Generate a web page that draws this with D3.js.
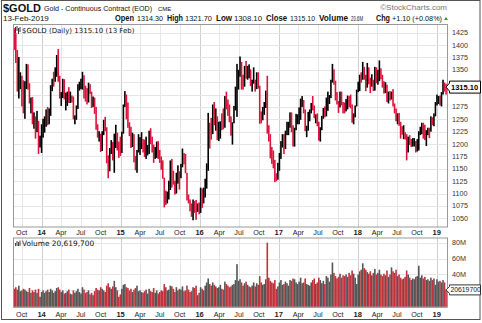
<!DOCTYPE html>
<html><head><meta charset="utf-8">
<script src="https://cdn.jsdelivr.net/npm/d3@7"></script>
<style>body{margin:0;background:#fff}svg{display:block}</style>
</head><body><svg id="c" width="482" height="323"></svg>
<script>
// ---- DATA (weekly) ----
const firstWeekEnd = "2013-08-30";
const high = [
1434,1424,1390,1376,1345,1338,1329,1327,1362,1361,1323,1294,1295,1264,1256,1267,1247,1217,
1240,1251,1256,1270,1275,1272,1319,1332,1346,1355,1380,1392,1338,1305,1332,1331,1304,1306,1315,1306,1298,1296,1258,1278,1321,1326,1332,1346,1339,1318,1313,1324,1321,1306,1296,1294,1275,1240,1226,1221,1226,1249,1255,1234,1177,1192,1208,1204,1221,1239,1223,1205,
1215,1225,1280,1307,1300,1284,1244,1235,1223,1220,1176,1188,1220,1214,1224,1210,1209,1215,1198,1227,1232,1215,1199,1194,1205,1206,1188,1175,1167,1132,1106,1104,1126,1167,1170,1146,1126,1142,1157,1145,1160,1191,1182,1180,1142,1098,1088,1080,1088,1085,1087,1080,1082,
1112,1110,1112,1130,1161,1263,1243,1253,1280,1285,1272,1256,1245,1246,1262,1272,1297,1306,1290,1280,1256,1244,1277,1316,1362,1350,1377,1366,1340,1358,1368,1358,1361,1351,1330,1355,1330,1345,1345,1318,1266,1275,1285,1308,1338,1238,1220,1194,1187,1168,1141,1162,
1182,1206,1220,1220,1227,1245,1245,1264,1264,1238,1233,1261,1260,1274,1292,1297,1289,1270,1237,1265,1270,1283,1297,1278,1260,1262,1245,1234,1257,1273,1276,1294,1306,1299,1330,1362,1351,1328,1305,1287,1306,1306,1285,1284,1291,1298,1297,1300,1280,1262,1278,1310,
1326,1340,1345,1366,1356,1340,1364,1355,1334,1341,1330,1356,1355,1350,1369,1353,1340,1327,1325,1320,1306,1307,1306,1311,1282,1272,1262,1263,1245,1236,1238,1224,1220,1215,1218,1210,1212,1212,1206,1210,1226,1235,1243,1243,1239,1228,1233,1233,1256,1254,1262,1285,
1300,1297,1298,1305,1330,1324,1322];
const low = [
1390,1364,1306,1292,1311,1276,1262,1251,1311,1310,1282,1262,1240,1231,1211,1224,1180,1193,
1182,1213,1223,1235,1238,1240,1257,1307,1316,1326,1336,1326,1292,1277,1293,1290,1268,1277,1283,1283,1284,1250,1240,1249,1271,1308,1311,1310,1292,1286,1280,1284,1301,1273,1275,1261,1229,1213,1205,1184,1186,1218,1226,1161,1131,1145,1180,1167,1142,1192,1187,1172,
1176,1182,1221,1275,1250,1233,1216,1192,1194,1163,1147,1142,1183,1178,1190,1183,1174,1170,1177,1180,1200,1183,1162,1170,1172,1170,1162,1148,1130,1072,1077,1080,1088,1107,1112,1118,1098,1100,1120,1108,1131,1153,1159,1141,1086,1080,1064,1053,1046,1061,1047,1063,1058,
1061,1071,1080,1092,1110,1146,1191,1209,1220,1238,1227,1208,1206,1211,1228,1230,1233,1270,1257,1244,1217,1199,1242,1268,1255,1310,1336,1310,1310,1316,1332,1330,1333,1317,1306,1322,1306,1311,1312,1241,1242,1248,1259,1273,1221,1205,1171,1160,1151,1123,1125,1128,
1146,1170,1193,1180,1190,1218,1218,1233,1224,1195,1195,1228,1240,1240,1249,1275,1262,1226,1214,1227,1246,1262,1268,1252,1242,1236,1207,1205,1228,1251,1254,1256,1267,1281,1293,1324,1320,1288,1280,1263,1274,1278,1262,1262,1266,1270,1275,1272,1243,1240,1254,1276,
1305,1307,1324,1330,1330,1307,1314,1321,1303,1316,1307,1308,1323,1320,1327,1331,1314,1302,1303,1285,1282,1288,1290,1276,1262,1246,1240,1237,1211,1219,1210,1209,1167,1183,1198,1194,1195,1195,1183,1185,1187,1218,1220,1211,1208,1196,1218,1212,1225,1238,1236,1256,
1278,1281,1278,1276,1300,1306,1300];
const close = [
1396,1387,1308,1333,1339,1310,1272,1315,1352,1315,1287,1288,1244,1250,1231,1235,1203,1213,
1238,1248,1254,1264,1240,1262,1318,1323,1321,1338,1379,1336,1294,1303,1318,1293,1300,1302,1287,1293,1292,1250,1252,1273,1316,1319,1320,1337,1310,1303,1294,1310,1305,1280,1287,1268,1231,1216,1218,1192,1222,1239,1231,1171,1169,1185,1201,1175,1204,1222,1196,1195,
1186,1217,1277,1293,1279,1234,1227,1204,1213,1164,1152,1184,1199,1201,1207,1204,1175,1179,1189,1225,1205,1190,1168,1179,1201,1172,1163,1157,1131,1099,1094,1094,1113,1159,1133,1121,1103,1137,1145,1137,1156,1182,1162,1142,1088,1081,1076,1057,1084,1075,1065,1076,1060,
1098,1089,1096,1118,1158,1239,1227,1222,1271,1250,1255,1217,1222,1240,1235,1231,1291,1290,1273,1252,1220,1242,1275,1294,1315,1339,1366,1328,1322,1357,1336,1340,1341,1321,1326,1328,1310,1339,1313,1257,1251,1267,1275,1303,1226,1208,1178,1177,1161,1134,1132,1152,
1173,1196,1204,1191,1220,1234,1239,1258,1234,1201,1230,1249,1249,1257,1288,1289,1268,1228,1228,1254,1268,1280,1271,1256,1256,1242,1212,1228,1255,1269,1258,1290,1291,1297,1325,1346,1325,1297,1284,1275,1304,1280,1272,1269,1274,1296,1288,1280,1248,1257,1275,1309,
1322,1335,1331,1350,1333,1315,1353,1330,1323,1323,1313,1347,1325,1332,1345,1336,1323,1315,1320,1289,1303,1298,1302,1278,1270,1253,1255,1241,1231,1222,1223,1219,1184,1213,1206,1200,1201,1201,1196,1207,1222,1228,1237,1233,1210,1223,1227,1226,1252,1241,1258,1283,
1287,1292,1282,1303,1322,1318,1315.1];
const volume = [ // millions
22,24,21,26,19,20,22,21,19,18,23,17,20,18,21,17,22,12,
18,20,17,19,21,18,22,20,17,19,23,24,21,18,20,16,17,19,21,16,15,20,17,19,22,18,16,24,21,17,18,20,15,17,14,19,23,21,20,24,22,20,18,26,29,24,22,25,32,24,20,12,
15,22,27,28,24,23,20,22,18,21,23,26,19,20,18,17,19,21,16,22,19,18,23,17,20,16,18,20,19,28,24,20,21,26,25,22,18,24,20,22,21,25,19,20,26,21,18,19,24,23,26,14,17,
24,22,20,26,30,35,28,26,30,27,25,23,24,27,22,21,31,28,26,24,25,27,28,33,53,32,34,30,26,29,31,27,25,24,26,30,25,29,27,38,30,27,28,34,80,36,32,30,29,33,22,25,
30,33,27,28,31,29,26,33,32,35,34,30,28,31,36,29,30,35,28,27,26,30,33,35,28,30,36,33,29,32,28,38,36,31,40,55,42,38,35,37,41,36,39,38,40,37,42,39,45,41,36,28,
40,44,46,54,48,46,43,41,44,39,42,47,40,42,46,40,38,41,39,45,37,40,49,44,42,46,38,40,36,34,35,37,45,40,36,33,35,34,37,38,51,36,39,35,37,33,34,32,36,33,35,27,
34,31,32,30,33,30,21];
const priceTicks = [1050,1075,1100,1125,1150,1175,1200,1225,1250,1275,1300,1325,1350,1375,1400,1425];
const volTicks = [20,40,60,80];
const volTickLabels = ["", "40M","60M","80M"];
const axisDates = ["2013-10-01","2014-01-01","2014-04-01","2014-07-01","2014-10-01","2015-01-01","2015-04-01","2015-07-01","2015-10-01","2016-01-01","2016-04-01","2016-07-01","2016-10-01","2017-01-01","2017-04-01","2017-07-01","2017-10-01","2018-01-01","2018-04-01","2018-07-01","2018-10-01","2019-01-01"];
const axisLabels = ["Oct","14","Apr","Jul","Oct","15","Apr","Jul","Oct","16","Apr","Jul","Oct","17","Apr","Jul","Oct","18","Apr","Jul","Oct","19"];
const headerStats = [["Open","1314.30"],["High","1321.70"],["Low","1308.10"],["Close","1315.10"],["Volume","20.6M"],["Chg","+1.10 (+0.08%)"]];
const lastClose = "1315.10", lastVolume = "20619700";

// ---- LAYOUT ----
const svg = d3.select("#c");
const L = 13, R = 448;
const pTop = 24, pBot = 227.5, vTop = 237.5, vBot = 307.5;
const parse = d3.timeParse("%Y-%m-%d");
const x = d3.scaleTime().domain([new Date(2013,7,22), new Date(2019,1,22)]).range([L, R]);
const yP = d3.scaleLinear().domain([1031.4, 1442.6]).range([pBot, pTop]);
const yV = d3.scaleLinear().domain([-1.5, 86.5]).range([vBot, vTop]);
const start = parse(firstWeekEnd);
const weeks = high.map((h,i)=>({
  d: d3.timeDay.offset(start, 7*i - 2), h, l: low[i], c: close[i], v: volume[i],
  up: i===0 ? false : close[i] >= close[i-1]
}));
const sans = "'Liberation Sans',Arial,sans-serif";
const dv = "'DejaVu Sans',sans-serif";
const yc = yP(+lastClose);

// outer frame
svg.append("rect").attr("x",1.5).attr("y",0.5).attr("width",478.5).attr("height",319)
  .attr("fill","none").attr("stroke","#555").attr("stroke-width",1);

function panel(top, bot){
  const g = svg.append("g");
  g.append("rect").attr("x",L).attr("y",top).attr("width",R-L).attr("height",bot-top).attr("fill","#fff");
  axisDates.forEach((s,i)=>{
    const xx = Math.round(x(parse(s)))+0.5;
    const yr = /^\d\d$/.test(axisLabels[i]);
    g.append("line").attr("x1",xx).attr("x2",xx).attr("y1",top).attr("y2",bot)
      .attr("stroke", yr ? "#cfcfcf" : "#e6e6e6").attr("stroke-width",1);
  });
  return g;
}
function label(xp, yp, s, size, opts={}){
  const e = svg.append("text").attr("x",xp).attr("y",yp).text(s)
    .attr("font-family",opts.ff||sans).attr("font-size",size)
    .attr("font-weight",opts.bold?"bold":"normal").attr("fill",opts.fill||"#222");
  if (opts.anchor) e.attr("text-anchor",opts.anchor);
  return e;
}
const gp = panel(pTop, pBot);
priceTicks.forEach(t=>{
  const yy = Math.round(yP(t))+0.5;
  gp.append("line").attr("x1",L).attr("x2",R).attr("y1",yy).attr("y2",yy).attr("stroke","#e6e6e6");
  if (Math.abs(yP(t)-yc) > 8)   // labels hidden under the last-value marker are not drawn
    label(R+4, yP(t)+2.5, t, 7.2, {fill:"#333"});
});
const gv = panel(vTop, vBot);
volTicks.forEach((t,i)=>{
  const yy = Math.round(yV(t))+0.5;
  gv.append("line").attr("x1",L).attr("x2",R).attr("y1",yy).attr("y2",yy).attr("stroke","#e6e6e6");
  if (volTickLabels[i]) label(R+4, yV(t)+2.5, volTickLabels[i], 7.2, {fill:"#333"});
});

// price bars
gp.selectAll("rect.bar").data(weeks).join("rect").attr("class","bar")
  .attr("x",d=>x(d.d)-0.8).attr("width",1.6)
  .attr("y",d=>yP(d.h)).attr("height",d=>yP(d.l)-yP(d.h))
  .attr("fill",d=>d.up ? "#000" : "#dc143c");
// volume bars
gv.selectAll("rect.vb").data(weeks).join("rect").attr("class","vb")
  .attr("x",d=>x(d.d)-0.8).attr("width",1.6)
  .attr("y",d=>yV(d.v)).attr("height",d=>vBot-yV(d.v))
  .attr("fill",d=>d.up ? "#555" : "#c1323d");

// panel borders
[[pTop,pBot],[vTop,vBot]].forEach(([t,b])=>{
  svg.append("rect").attr("x",L+0.5).attr("y",t+0.5).attr("width",R-L-1).attr("height",b-t-1)
    .attr("fill","none").attr("stroke","#999");
});

// x-axis labels
[pBot+7.5, vBot+9].forEach(yb=>{
  axisDates.forEach((s,i)=>{
    const yr = /^\d\d$/.test(axisLabels[i]);
    label(x(parse(s)), yb, axisLabels[i], yr?7.5:7.2, {bold:yr, anchor:"middle"});
  });
});

// header line 1
label(3,12,"$GOLD",11,{bold:true,fill:"#111"});
label(44,11,"Gold - Continuous Contract (EOD)",7.1,{fill:"#111"});
label(158,11,"CME",6,{fill:"#111"});
label(447,10,"\u00A9StockCharts.com",8,{anchor:"end",fill:"#777"});
// header line 2
label(3,21,"13-Feb-2019",8,{fill:"#111"});
const h2 = svg.append("text").attr("y",21).attr("font-family",sans).attr("fill","#111");
const hx = [[115,19,137,26],[167,16,185,27],[216,16,234,28],[266,21,290,25],[319,29,351,12],[376,14,392,50]];
headerStats.forEach(([k,v],i)=>{
  const [kx,kl,vx,vl] = hx[i];
  h2.append("tspan").attr("x",kx).attr("font-size",8.5).attr("font-weight","bold").attr("textLength",kl).attr("lengthAdjust","spacingAndGlyphs").text(k);
  h2.append("tspan").attr("x",vx).attr("font-size",7.5).attr("font-weight","normal").attr("textLength",vl).attr("lengthAdjust","spacingAndGlyphs").text(v);
});
svg.append("path").attr("d","M444,20 L448,20 L446,17 Z").attr("fill","#2a9d2a");

// legends in panels
const ic = svg.append("g").attr("stroke","#000").attr("stroke-width",0.8);
[[15.5,27,33],[17,26,31],[18.5,28,34],[20,27,32]].forEach(([xx,a,b])=>ic.append("line").attr("x1",xx).attr("x2",xx).attr("y1",a).attr("y2",b));
label(22,32.5,"$GOLD (Daily) 1315.10 (13 Feb)",7,{ff:dv,fill:"#111"});
const iv = svg.append("g").attr("fill","#444");
[[15,243],[16.5,241],[18,242],[19.5,240.5]].forEach(([xx,yy])=>iv.append("rect").attr("x",xx).attr("y",yy).attr("width",1).attr("height",246-yy));
label(22,246,"Volume 20,619,700",7.4,{ff:dv,fill:"#111"});

// last value markers
svg.append("path").attr("d",`M446,${yc} L449.5,${yc-4} L449.5,${yc-6} L480.5,${yc-6} L480.5,${yc+6} L449.5,${yc+6} L449.5,${yc+4} Z`)
  .attr("fill","#fff").attr("stroke","#000").attr("stroke-width",1);
label(451,yc+2.8,lastClose,7.5,{bold:true,fill:"#000"});
const yvv = yV(+lastVolume/1e6);
svg.append("path").attr("d",`M446,${yvv} L449.5,${yvv-3.5} L449.5,${yvv-5} L480.5,${yvv-5} L480.5,${yvv+5} L449.5,${yvv+5} L449.5,${yvv+3.5} Z`)
  .attr("fill","#fff").attr("stroke","#333").attr("stroke-width",1);
label(450.5,yvv+2.5,lastVolume,6.8,{fill:"#111"});
</script></body></html>
